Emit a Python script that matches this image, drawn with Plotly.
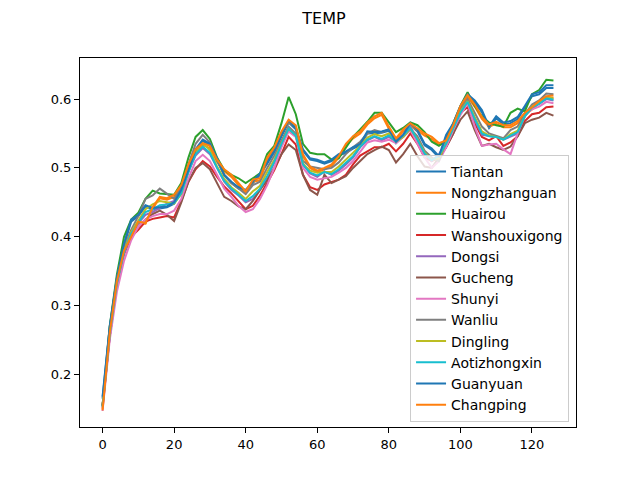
import plotly.graph_objects as go

# jours (un point sur deux)
jours = list(range(0, 127, 2))

stations = ['Tiantan', 'Nongzhanguan', 'Huairou', 'Wanshouxigong', 'Dongsi', 'Gucheng',
            'Shunyi', 'Wanliu', 'Dingling', 'Aotizhongxin', 'Guanyuan', 'Changping']

tiantan = [0.165, 0.268, 0.338, 0.388, 0.422, 0.43, 0.444, 0.44, 0.441, 0.443, 0.448, 0.466,
           0.495, 0.525, 0.539, 0.533, 0.512, 0.489, 0.478, 0.47, 0.466, 0.478, 0.49, 0.506,
           0.523, 0.546, 0.566, 0.556, 0.525, 0.512, 0.51, 0.506, 0.51, 0.518, 0.522, 0.528,
           0.533, 0.55, 0.55, 0.551, 0.554, 0.536, 0.546, 0.562, 0.553, 0.533, 0.526, 0.515,
           0.545, 0.562, 0.587, 0.604, 0.595, 0.581, 0.558, 0.572, 0.563, 0.565, 0.571, 0.587,
           0.604, 0.607, 0.616, 0.616]
nongzhanguan = [0.15, 0.26, 0.334, 0.378, 0.4, 0.42, 0.419, 0.441, 0.456, 0.454, 0.458, 0.472,
                0.502, 0.524, 0.533, 0.529, 0.509, 0.495, 0.487, 0.475, 0.463, 0.48, 0.482, 0.512,
                0.527, 0.55, 0.567, 0.559, 0.517, 0.5, 0.494, 0.498, 0.503, 0.515, 0.532, 0.543,
                0.55, 0.563, 0.572, 0.577, 0.557, 0.54, 0.553, 0.562, 0.555, 0.547, 0.542, 0.533,
                0.537, 0.559, 0.587, 0.603, 0.589, 0.571, 0.56, 0.564, 0.559, 0.559, 0.565, 0.577,
                0.585, 0.594, 0.601, 0.602]
huairou = [0.155, 0.27, 0.345, 0.4, 0.425, 0.435, 0.455, 0.467, 0.463, 0.462, 0.461, 0.478,
           0.515, 0.545, 0.555, 0.542, 0.515, 0.497, 0.49, 0.485, 0.478, 0.485, 0.492, 0.52,
           0.532, 0.565, 0.603, 0.578, 0.535, 0.522, 0.52, 0.52, 0.512, 0.514, 0.53, 0.545,
           0.556, 0.567, 0.58, 0.58, 0.566, 0.552, 0.558, 0.566, 0.562, 0.552, 0.538, 0.532,
           0.54, 0.565, 0.59, 0.61, 0.59, 0.575, 0.566, 0.562, 0.56, 0.58, 0.586, 0.582,
           0.607, 0.613, 0.628, 0.627]
wanshouxigong = [0.155, 0.255, 0.33, 0.375, 0.4, 0.41, 0.422, 0.426, 0.428, 0.43, 0.428, 0.452,
                 0.48, 0.498, 0.51, 0.502, 0.487, 0.473, 0.463, 0.452, 0.44, 0.445, 0.46, 0.478,
                 0.497, 0.52, 0.545, 0.534, 0.49, 0.472, 0.468, 0.476, 0.48, 0.483, 0.49, 0.505,
                 0.518, 0.524, 0.53, 0.53, 0.535, 0.524, 0.535, 0.55, 0.535, 0.515, 0.51, 0.515,
                 0.53, 0.55, 0.58, 0.588, 0.565, 0.545, 0.54, 0.546, 0.532, 0.537, 0.546, 0.568,
                 0.578, 0.58, 0.588, 0.589]
dongsi = [0.152, 0.255, 0.33, 0.375, 0.405, 0.42, 0.432, 0.436, 0.442, 0.448, 0.452, 0.465,
          0.495, 0.518, 0.529, 0.52, 0.5, 0.48, 0.468, 0.46, 0.45, 0.455, 0.468, 0.485,
          0.508, 0.535, 0.558, 0.548, 0.505, 0.492, 0.487, 0.495, 0.49, 0.496, 0.505, 0.515,
          0.53, 0.54, 0.545, 0.54, 0.545, 0.538, 0.548, 0.56, 0.54, 0.52, 0.51, 0.52,
          0.535, 0.558, 0.58, 0.596, 0.57, 0.548, 0.546, 0.545, 0.541, 0.545, 0.55, 0.575,
          0.588, 0.593, 0.6, 0.598]
gucheng = [0.155, 0.255, 0.33, 0.38, 0.405, 0.415, 0.425, 0.433, 0.438, 0.432, 0.423, 0.45,
           0.48, 0.5, 0.507, 0.498, 0.477, 0.458, 0.452, 0.444, 0.44, 0.452, 0.468, 0.482,
           0.5, 0.52, 0.534, 0.526, 0.49, 0.468, 0.461, 0.49, 0.478, 0.483, 0.488, 0.5,
           0.51, 0.52, 0.526, 0.531, 0.526, 0.508, 0.52, 0.535, 0.517, 0.502, 0.5, 0.515,
           0.53, 0.55, 0.57, 0.582, 0.555, 0.532, 0.535, 0.53, 0.526, 0.531, 0.546, 0.565,
           0.57, 0.573, 0.58, 0.576]
shunyi = [0.147, 0.25, 0.32, 0.365, 0.395, 0.415, 0.425, 0.43, 0.433, 0.433, 0.438, 0.455,
          0.485, 0.51, 0.519, 0.51, 0.49, 0.47, 0.458, 0.445, 0.436, 0.44, 0.455, 0.475,
          0.5, 0.53, 0.553, 0.545, 0.5, 0.487, 0.483, 0.485, 0.487, 0.493, 0.5, 0.51,
          0.524, 0.537, 0.54, 0.538, 0.541, 0.536, 0.545, 0.555, 0.535, 0.515, 0.5, 0.51,
          0.53, 0.555, 0.577, 0.594, 0.56, 0.532, 0.534, 0.535, 0.527, 0.52, 0.55, 0.578,
          0.585, 0.589, 0.596, 0.594]
wanliu = [0.155, 0.265, 0.34, 0.385, 0.41, 0.43, 0.455, 0.46, 0.47, 0.462, 0.455, 0.47,
          0.505, 0.535, 0.548, 0.537, 0.51, 0.49, 0.478, 0.47, 0.462, 0.475, 0.48, 0.5,
          0.518, 0.54, 0.56, 0.55, 0.51, 0.502, 0.5, 0.498, 0.5, 0.508, 0.52, 0.53,
          0.538, 0.55, 0.555, 0.552, 0.556, 0.54, 0.545, 0.557, 0.546, 0.525, 0.515, 0.51,
          0.538, 0.56, 0.585, 0.6, 0.58, 0.56, 0.55, 0.546, 0.543, 0.555, 0.56, 0.578,
          0.592, 0.598, 0.608, 0.607]
dingling = [0.154, 0.26, 0.335, 0.38, 0.407, 0.424, 0.44, 0.447, 0.452, 0.45, 0.448, 0.462,
            0.495, 0.524, 0.536, 0.526, 0.502, 0.484, 0.472, 0.464, 0.455, 0.466, 0.474, 0.494,
            0.512, 0.536, 0.557, 0.547, 0.506, 0.496, 0.493, 0.494, 0.494, 0.502, 0.512, 0.522,
            0.532, 0.544, 0.549, 0.546, 0.55, 0.538, 0.545, 0.557, 0.542, 0.522, 0.512, 0.514,
            0.535, 0.558, 0.582, 0.597, 0.574, 0.553, 0.547, 0.545, 0.541, 0.549, 0.554, 0.575,
            0.589, 0.594, 0.603, 0.601]
aotizhongxin = [0.153, 0.258, 0.332, 0.378, 0.405, 0.421, 0.436, 0.44, 0.446, 0.447, 0.449, 0.463,
                0.494, 0.52, 0.531, 0.522, 0.5, 0.481, 0.47, 0.461, 0.452, 0.459, 0.47, 0.488,
                0.509, 0.535, 0.557, 0.547, 0.505, 0.493, 0.489, 0.494, 0.491, 0.498, 0.507, 0.517,
                0.531, 0.541, 0.546, 0.542, 0.547, 0.538, 0.547, 0.558, 0.541, 0.521, 0.511, 0.518,
                0.535, 0.557, 0.58, 0.596, 0.571, 0.55, 0.546, 0.545, 0.541, 0.547, 0.552, 0.575,
                0.588, 0.593, 0.601, 0.599]
guanyuan = [0.168, 0.27, 0.34, 0.39, 0.425, 0.432, 0.446, 0.442, 0.443, 0.444, 0.45, 0.468,
            0.497, 0.527, 0.541, 0.535, 0.514, 0.49, 0.48, 0.472, 0.468, 0.48, 0.492, 0.508,
            0.525, 0.548, 0.569, 0.558, 0.527, 0.514, 0.512, 0.508, 0.512, 0.52, 0.524, 0.53,
            0.535, 0.553, 0.552, 0.553, 0.556, 0.538, 0.548, 0.565, 0.555, 0.535, 0.528, 0.517,
            0.548, 0.565, 0.59, 0.607, 0.598, 0.584, 0.56, 0.575, 0.566, 0.568, 0.574, 0.59,
            0.607, 0.61, 0.62, 0.62]
changping = [0.148, 0.26, 0.335, 0.38, 0.4, 0.422, 0.42, 0.443, 0.458, 0.456, 0.461, 0.475,
             0.505, 0.527, 0.536, 0.532, 0.512, 0.498, 0.49, 0.478, 0.466, 0.483, 0.485, 0.515,
             0.53, 0.553, 0.57, 0.562, 0.52, 0.502, 0.496, 0.5, 0.505, 0.517, 0.535, 0.546,
             0.553, 0.566, 0.575, 0.58, 0.56, 0.543, 0.556, 0.565, 0.558, 0.55, 0.545, 0.536,
             0.54, 0.562, 0.59, 0.606, 0.592, 0.574, 0.563, 0.567, 0.562, 0.562, 0.568, 0.58,
             0.588, 0.597, 0.604, 0.605]

series = [tiantan, nongzhanguan, huairou, wanshouxigong, dongsi, gucheng,
          shunyi, wanliu, dingling, aotizhongxin, guanyuan, changping]

couleurs = ['#1f77b4', '#ff7f0e', '#2ca02c', '#d62728', '#9467bd', '#8c564b',
            '#e377c2', '#7f7f7f', '#bcbd22', '#17becf', '#1f77b4', '#ff7f0e']

fig = go.Figure()
for nom, valeurs, couleur in zip(stations, series, couleurs):
    fig.add_trace(go.Scatter(x=jours, y=valeurs, mode='lines', name=nom,
                             line=dict(color=couleur, width=2)))

axe = dict(showline=True, linecolor='black', linewidth=1, mirror=True, showgrid=False,
           zeroline=False, ticks='outside', ticklen=5, tickcolor='black',
           tickfont=dict(size=13, color='black'))

# la page a une marge de 8 px : on réduit la figure d'autant
fig.update_layout(
    width=632, height=472,
    font=dict(family='DejaVu Sans', color='black'),
    title=dict(text='TEMP', x=0.5, xanchor='center', y=0.979, yanchor='middle',
               font=dict(size=16, color='black')),
    plot_bgcolor='white', paper_bgcolor='white',
    margin=dict(l=72, r=64, t=50, b=53),
    xaxis=dict(range=[-6.3, 132.3], tickvals=[0, 20, 40, 60, 80, 100, 120], **axe),
    yaxis=dict(range=[0.1238, 0.6596], tickvals=[0.2, 0.3, 0.4, 0.5, 0.6],
               ticktext=['0.2', '0.3', '0.4', '0.5', '0.6'], **axe),
    legend=dict(x=0.986, y=0.014, xanchor='right', yanchor='bottom',
                bgcolor='rgba(255,255,255,0.8)', bordercolor='#cccccc', borderwidth=1,
                font=dict(size=14, color='black'), itemwidth=30, tracegroupgap=0),
    showlegend=True,
)

fig.write_html('out.html')
